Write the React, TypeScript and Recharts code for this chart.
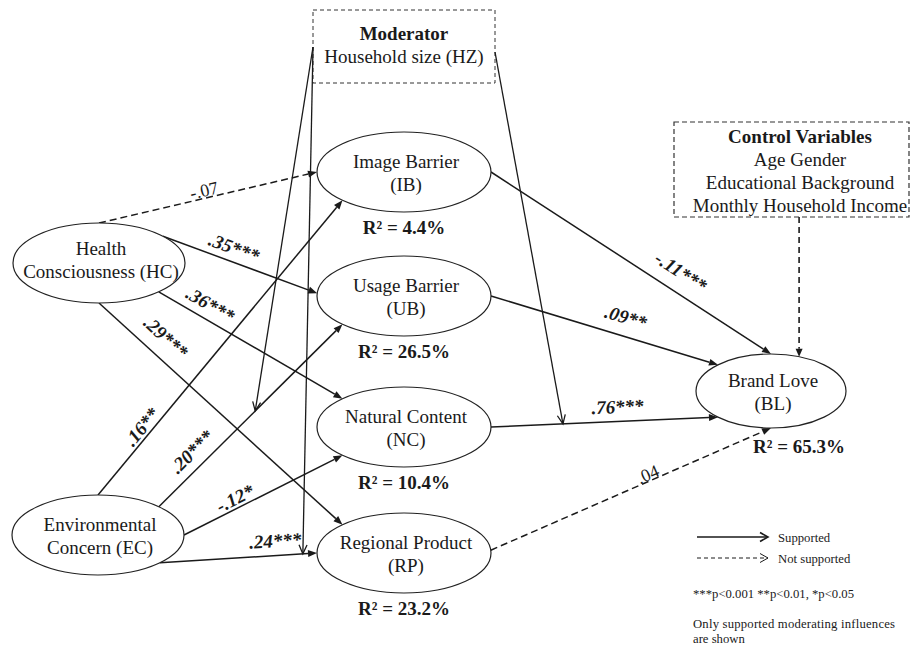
import React from 'react';
import { ScatterChart, Scatter, XAxis, YAxis, ReferenceLine, ReferenceArea, ReferenceDot } from 'recharts';

const FONT = '"Liberation Serif", "Times New Roman", serif';
const INK = '#1a1a1a';

// constructs of the model
const nodeIds = ['HC', 'EC', 'IB', 'UB', 'NC', 'RP', 'BL'];
const nodeTitles = ['Health', 'Environmental', 'Image Barrier', 'Usage Barrier', 'Natural Content', 'Regional Product', 'Brand Love'];
const nodeCodes = ['Consciousness (HC)', 'Concern (EC)', '(IB)', '(UB)', '(NC)', '(RP)', '(BL)'];
const nodeR2 = ['', '', '4.4%', '26.5%', '10.4%', '23.2%', '65.3%'];
const nodeX = [99, 98, 404, 404, 404, 404, 771];
const nodeY = [263, 535, 172, 296, 427, 553, 391];

// structural paths
const pathFrom = ['HC', 'HC', 'HC', 'HC', 'EC', 'EC', 'EC', 'EC', 'IB', 'UB', 'NC', 'RP'];
const pathTo = ['IB', 'UB', 'NC', 'RP', 'IB', 'UB', 'NC', 'RP', 'BL', 'BL', 'BL', 'BL'];
const pathCoef = ['-.07', '.35***', '.36***', '.29***', '.16**', '.20***', '-.12*', '.24***', '-.11***', '.09**', '.76***', '.04'];
const pathSupported = [false, true, true, true, true, true, true, true, true, true, true, false];

// where each arrow leaves / meets its ellipse (deg) and where the label sits
const pathOut = [-90, -42, 46, 90, -90, -45, 0, 44, 0, 0, 0, -4];
const pathIn = [180, 184, -135, -135, 135, 135, 135, 180, -90, -135, 135, 90];
const labelAt = [0.49, 0.43, 0.24, 0.22, 0.21, 0.24, 0.35, 0.74, 0.64, 0.57, 0.56, 0.57];
const labelLift = [8, 14, 15, 20, 10, 16, 10, 15, 20, 19, 15, 7];

// moderating influences of household size (index into the paths above)
const moderatorTitle = 'Moderator';
const moderatorLines = ['Household size (HZ)'];
const moderatedPath = [5, 7, 10];
const moderatedAt = [0.525, 0.91, 0.317];
const moderatorSide = ['left', 'left', 'right'];

const controlTitle = 'Control Variables';
const controlLines = ['Age Gender', 'Educational Background', 'Monthly Household Income'];

const legendLabels = ['Supported', 'Not supported'];
const notes = ['***p<0.001 **p<0.01, *p<0.05', 'Only supported moderating influences', 'are shown'];

const modBox = { x1: 313, x2: 495, y1: 10, y2: 83 };
const ctrlBox = { x1: 674, x2: 909, y1: 122, y2: 217 };

const radii = (id: string) => (id === 'BL' ? { rx: 75, ry: 37 } : id === 'HC' || id === 'EC' ? { rx: 86, ry: 40 } : { rx: 87, ry: 40 });

const anchor = (id: string, deg: number) => {
  const i = nodeIds.indexOf(id);
  const { rx, ry } = radii(id);
  const a = (deg * Math.PI) / 180;
  return { x: nodeX[i] + rx * Math.cos(a), y: nodeY[i] + ry * Math.sin(a) };
};

const nodes = nodeIds.map((id, i) => ({ id, x: nodeX[i], y: nodeY[i], title: nodeTitles[i], code: nodeCodes[i], r2: nodeR2[i] }));

const paths = pathFrom.map((f, i) => ({
  start: anchor(f, pathOut[i]),
  end: anchor(pathTo[i], pathIn[i]),
  coef: pathCoef[i],
  supported: pathSupported[i],
  t: labelAt[i],
  lift: labelLift[i],
}));

const modLinks = moderatedPath.map((p, i) => {
  const { start, end } = paths[p];
  const t = moderatedAt[i];
  const left = moderatorSide[i] === 'left';
  return {
    from: { x: left ? modBox.x1 : modBox.x2, y: left ? 47 : 52 },
    to: { x: start.x + (end.x - start.x) * t, y: start.y + (end.y - start.y) * t },
  };
});

const ctrlEnd = anchor('BL', -68);

function NodeShape(props: any) {
  const { cx, cy, payload } = props;
  const { rx, ry } = radii(payload.id);
  const lift = payload.id === 'HC' ? 4 : 0;
  const txt = { textAnchor: 'middle' as const, fontFamily: FONT, fontSize: 19, fill: INK };
  return (
    <g>
      <ellipse cx={cx} cy={cy} rx={rx} ry={ry} fill="#fff" stroke="#222" strokeWidth={1.2} />
      <text x={cx + 2} y={cy - 4 - lift} {...txt}>{payload.title}</text>
      <text x={cx + 2} y={cy + 19 - lift} {...txt}>{payload.code}</text>
      {payload.r2 && (
        <text x={cx + (payload.id === 'BL' ? 28 : 0)} y={cy + 62} {...txt} fontWeight="bold">
          R² = {payload.r2}
        </text>
      )}
    </g>
  );
}

function PathShape(props: any) {
  const { x1, y1, x2, y2, coef, supported, t, lift } = props;
  const dx = x2 - x1, dy = y2 - y1;
  const len = Math.hypot(dx, dy);
  const ux = dx / len, uy = dy / len;
  const nx = uy, ny = -ux;
  const head = 9, half = 3.5;
  const bx = x2 - ux * head, by = y2 - uy * head;
  const lx = x1 + dx * t + nx * lift, ly = y1 + dy * t + ny * lift;
  const ang = (Math.atan2(dy, dx) * 180) / Math.PI;
  return (
    <g>
      <line x1={x1} y1={y1} x2={bx} y2={by} stroke={INK} strokeWidth={1.5} strokeDasharray={supported ? undefined : '7 4'} />
      <polygon points={`${x2},${y2} ${bx + nx * half},${by + ny * half} ${bx - nx * half},${by - ny * half}`} fill={INK} />
      <text
        transform={`translate(${lx},${ly}) rotate(${ang})`}
        textAnchor="middle"
        dy="0.35em"
        fontFamily={FONT}
        fontSize={supported ? 19 : 18}
        fontWeight={supported ? 'bold' : 'normal'}
        fontStyle={supported ? 'italic' : 'normal'}
        fill={INK}
      >
        {coef}
      </text>
    </g>
  );
}

function OpenArrow(props: any) {
  const { x1, y1, x2, y2, dashed, head = 9, half = 4, width = 1.3 } = props;
  const dx = x2 - x1, dy = y2 - y1;
  const len = Math.hypot(dx, dy);
  const ux = dx / len, uy = dy / len;
  const nx = uy, ny = -ux;
  const bx = x2 - ux * head, by = y2 - uy * head;
  return (
    <g>
      <line x1={x1} y1={y1} x2={x2} y2={y2} stroke={INK} strokeWidth={width} strokeDasharray={dashed ? '4 3' : undefined} />
      <polyline
        points={`${bx + nx * half},${by + ny * half} ${x2},${y2} ${bx - nx * half},${by - ny * half}`}
        fill="none"
        stroke={INK}
        strokeWidth={width}
      />
    </g>
  );
}

function FilledArrow(props: any) {
  const { x1, y1, x2, y2 } = props;
  const dx = x2 - x1, dy = y2 - y1;
  const len = Math.hypot(dx, dy);
  const ux = dx / len, uy = dy / len;
  const nx = uy, ny = -ux;
  const bx = x2 - ux * 8, by = y2 - uy * 8;
  return (
    <g>
      <line x1={x1} y1={y1} x2={bx} y2={by} stroke={INK} strokeWidth={1.6} strokeDasharray="6 4" />
      <polygon points={`${x2},${y2} ${bx + nx * 3.5},${by + ny * 3.5} ${bx - nx * 3.5},${by - ny * 3.5}`} fill={INK} />
    </g>
  );
}

function BoxText(props: any) {
  const { cx, cy, title, lines, first } = props;
  return (
    <g fontFamily={FONT} fontSize={19} fill={INK} textAnchor="middle">
      <text x={cx} y={cy + first} fontWeight="bold">{title}</text>
      {lines.map((l: string, i: number) => (
        <text key={l} x={cx} y={cy + first + 23 * (i + 1)}>{l}</text>
      ))}
    </g>
  );
}

export default function App() {
  return (
    <div style={{ position: 'absolute', left: 0, top: 0, background: '#fff' }}>
      <ScatterChart width={910} height={647} margin={{ top: 0, right: 0, bottom: 0, left: 0 }} style={{ fontFamily: FONT }}>
        <XAxis type="number" dataKey="x" domain={[0, 910]} allowDataOverflow hide />
        <YAxis type="number" dataKey="y" domain={[0, 647]} allowDataOverflow reversed hide />

        <ReferenceArea {...modBox} fill="none" fillOpacity={0} stroke="#333" strokeWidth={1} strokeDasharray="4 3" ifOverflow="visible" />
        <ReferenceArea {...ctrlBox} fill="none" fillOpacity={0} stroke="#333" strokeWidth={1.2} strokeDasharray="5 3" ifOverflow="visible" />

        {paths.map((p, i) => (
          <ReferenceLine
            key={`p${i}`}
            segment={[p.start, p.end]}
            ifOverflow="visible"
            shape={(s: any) => <PathShape {...s} coef={p.coef} supported={p.supported} t={p.t} lift={p.lift} />}
          />
        ))}

        {modLinks.map((m, i) => (
          <ReferenceLine key={`m${i}`} segment={[m.from, m.to]} ifOverflow="visible" shape={(s: any) => <OpenArrow {...s} />} />
        ))}

        <ReferenceLine
          segment={[{ x: ctrlEnd.x, y: ctrlBox.y2 }, ctrlEnd]}
          ifOverflow="visible"
          shape={(s: any) => <FilledArrow {...s} />}
        />

        <Scatter data={nodes} shape={(p: any) => <NodeShape {...p} />} isAnimationActive={false} />

        <ReferenceDot
          x={(modBox.x1 + modBox.x2) / 2}
          y={modBox.y1}
          ifOverflow="visible"
          shape={(s: any) => <BoxText cx={s.cx} cy={s.cy} title={moderatorTitle} lines={moderatorLines} first={30} />}
        />
        <ReferenceDot
          x={800}
          y={ctrlBox.y1}
          ifOverflow="visible"
          shape={(s: any) => <BoxText cx={s.cx} cy={s.cy} title={controlTitle} lines={controlLines} first={21} />}
        />

        {legendLabels.map((l, i) => (
          <ReferenceLine
            key={`l${i}`}
            segment={[{ x: 697, y: 537 + 21 * i }, { x: 768, y: 537 + 21 * i }]}
            ifOverflow="visible"
            shape={(s: any) => (
              <g>
                <OpenArrow {...s} dashed={i === 1} head={8} half={4.5} width={i === 0 ? 1.6 : 1} />
                <text x={s.x2 + 10} y={s.y2 + 5} fontFamily={FONT} fontSize={12.7} fill={INK}>{l}</text>
              </g>
            )}
          />
        ))}

        {notes.map((n, i) => (
          <ReferenceDot
            key={`n${i}`}
            x={693}
            y={[598, 628, 643][i]}
            ifOverflow="visible"
            shape={(s: any) => (
              <text
                x={s.cx}
                y={s.cy}
                fontFamily={FONT}
                fontSize={12.7}
                fill={INK}
                textLength={i === 1 ? 202 : undefined}
                lengthAdjust={i === 1 ? 'spacing' : undefined}
              >
                {n}
              </text>
            )}
          />
        ))}
      </ScatterChart>
    </div>
  );
}
